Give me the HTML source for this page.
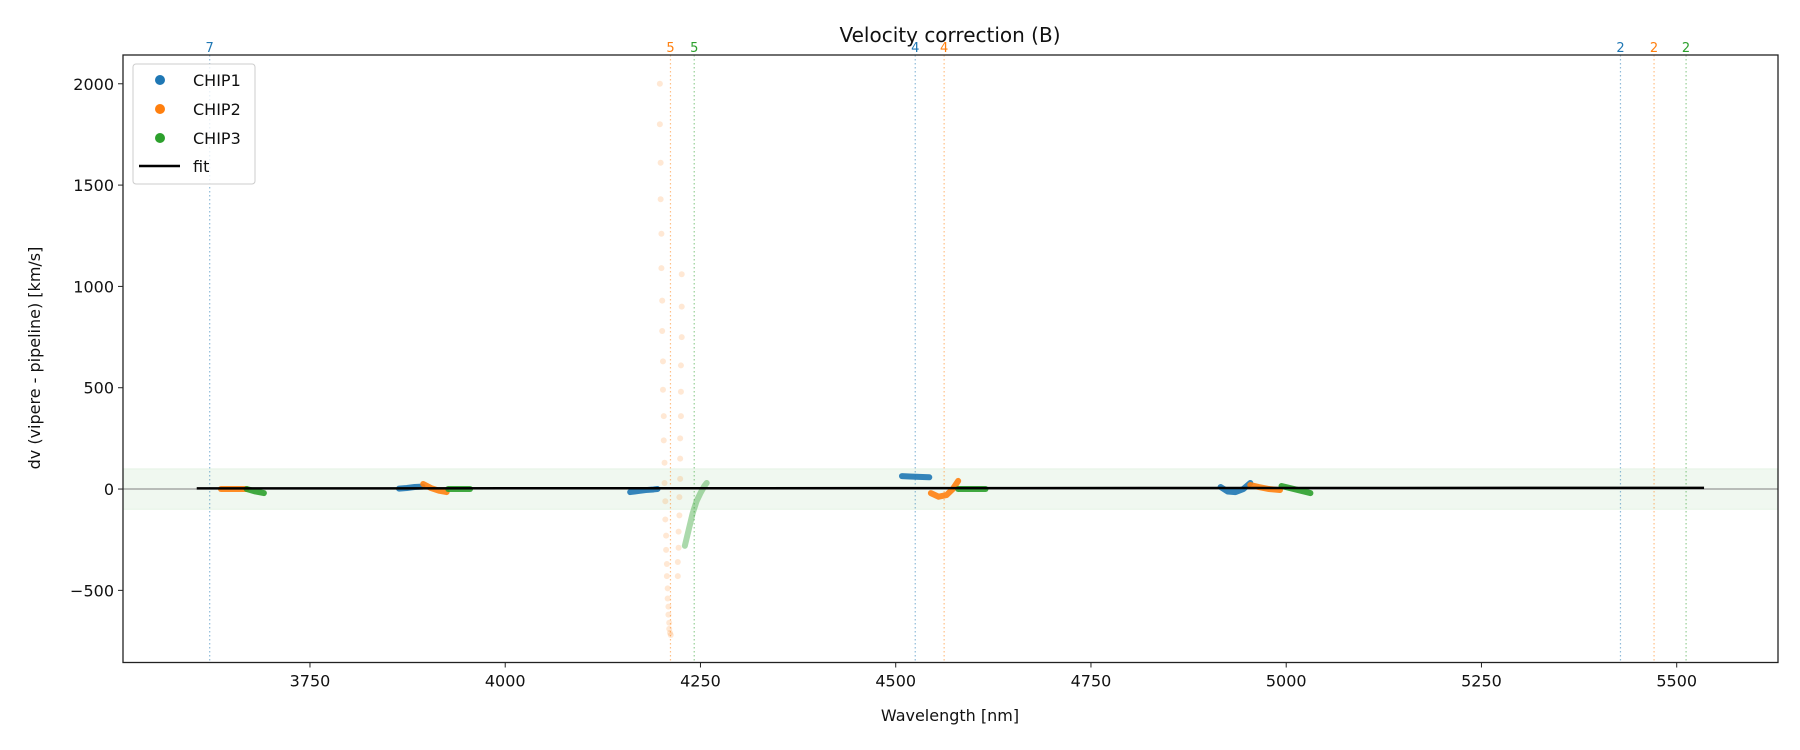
<!DOCTYPE html>
<html><head><meta charset="utf-8"><style>
html,body{margin:0;padding:0;background:#fff;}
svg{display:block;font-family:"DejaVu Sans","Liberation Sans",sans-serif;}
</style></head><body>
<svg id="chart" width="1800" height="750" viewBox="0 0 1800 750" xmlns="http://www.w3.org/2000/svg"></svg>
<script>
// ---- data ----
const xTicks = [3750, 4000, 4250, 4500, 4750, 5000, 5250, 5500];
const yTicks = [-500, 0, 500, 1000, 1500, 2000];
const chip1Segs = [
  {x:[4916,4925,4935,4945,4954], y:[10,-12,-15,0,30]},
  {x:[3864,3874,3884,3894], y:[2,5,10,12]},
  {x:[4160,4170,4180,4190,4195], y:[-15,-10,-5,-2,0]},
  {x:[4508,4518,4530,4543], y:[64,62,60,58]}
];
const chip2Segs = [
  {x:[3636,3650,3669], y:[0,0,0]},
  {x:[3895,3905,3915,3925], y:[25,5,-8,-15]},
  {x:[4545,4555,4565,4573,4580], y:[-20,-38,-30,0,40]},
  {x:[4954,4965,4978,4992], y:[20,10,0,-5]}
];
const chip3Segs = [
  {x:[3669,3680,3691], y:[0,-12,-20]},
  {x:[3927,3940,3955], y:[0,0,0]},
  {x:[4580,4598,4615], y:[0,0,0]},
  {x:[4994,5010,5031], y:[15,0,-20]}
];
const chip3Faint = {x:[4230,4235,4240,4245,4250,4255,4258], y:[-280,-200,-120,-60,-20,15,30]};
const chip2ScatterX = [4198,4198,4199,4199,4200,4200,4201,4201,4202,4202,4203,4203,4204,4204,4205,4205,4206,4206,4207,4207,4208,4208,4209,4209,4210,4210,4211,4212,
  4226,4226,4226,4225,4225,4225,4224,4224,4224,4223,4223,4222,4222,4221,4221];
const chip2ScatterY = [2000,1800,1610,1430,1260,1090,930,780,630,490,360,240,130,30,-60,-150,-230,-300,-370,-430,-490,-540,-580,-620,-660,-690,-710,-720,
  1060,900,750,610,480,360,250,150,50,-40,-130,-210,-290,-360,-430];
const fitX = [3605, 5535];
const fitY = [3, 6];
const markerX = [3621.6, 4211.6, 4242, 4525, 4562, 5428, 5471, 5512];
const markerLabels = ["7","5","5","4","4","2","2","2"];
const markerChip = [0,1,2,0,1,0,1,2];

// ---- layout ----
const L=123, R=1778, T=55, B=662.5;
const xmin=3510.6, xmax=5629.7, ymin=-856, ymax=2142;
const colors=['#1f77b4','#ff7f0e','#2ca02c'];
const sx=v=>L+(v-xmin)/(xmax-xmin)*(R-L);
const sy=v=>B-(v-ymin)/(ymax-ymin)*(B-T);
const svg=document.getElementById('chart');
const NS='http://www.w3.org/2000/svg';
function mk(tag,attrs,parent){const e=document.createElementNS(NS,tag);for(const k in attrs)e.setAttribute(k,attrs[k]);(parent||svg).appendChild(e);return e;}

const defs=mk('defs',{});
const cp=mk('clipPath',{id:'plotclip'},defs);
mk('rect',{x:L,y:T,width:R-L,height:B-T},cp);
const plot=mk('g',{'clip-path':'url(#plotclip)'});



const band=mk('rect',{x:L,y:sy(100),width:R-L,height:sy(-100)-sy(100),fill:'#2ca02c','fill-opacity':0.07,stroke:'#2ca02c','stroke-opacity':0.08},plot);


const zl=mk('line',{x1:L,x2:R,y1:sy(0),y2:sy(0),stroke:'#808080','stroke-width':1},plot);



markerX.forEach((v,i)=>{
  const ln=mk('line',{x1:sx(v),x2:sx(v),y1:T,y2:B,stroke:colors[markerChip[i]],'stroke-opacity':0.5,'stroke-width':1.2,'stroke-dasharray':'1.5,2.5'},plot);
  
  
  const t=mk('text',{x:sx(v),y:T-3,'text-anchor':'middle','font-size':13,fill:colors[markerChip[i]]});
  t.textContent=markerLabels[i];
  
  
});

chip2ScatterX.forEach((v,i)=>{
  const c=mk('circle',{cx:sx(v),cy:sy(chip2ScatterY[i]),r:3,fill:colors[1],'fill-opacity':0.18},plot);
  
  
});
function seg(s,col,op,name){
  const pts=s.x.map((v,i)=>sx(v)+','+sy(s.y[i])).join(' ');
  const p=mk('polyline',{points:pts,fill:'none',stroke:col,'stroke-width':6,'stroke-linecap':'round','stroke-linejoin':'round','stroke-opacity':op},plot);
  
  
}
seg(chip3Faint,colors[2],0.4,'chip3-faint-segment');
chip1Segs.forEach(s=>seg(s,colors[0],0.9,'chip1-segment'));
chip2Segs.forEach(s=>seg(s,colors[1],0.9,'chip2-segment'));
chip3Segs.forEach(s=>seg(s,colors[2],0.9,'chip3-segment'));
const fit=mk('line',{x1:sx(fitX[0]),x2:sx(fitX[1]),y1:sy(fitY[0]),y2:sy(fitY[1]),stroke:'#000','stroke-width':2.5},plot);



const fr=mk('rect',{x:L,y:T,width:R-L,height:B-T,fill:'none',stroke:'#222','stroke-width':1.3});


xTicks.forEach(v=>{
  mk('line',{x1:sx(v),x2:sx(v),y1:B,y2:B+5,stroke:'#222'});
  const t=mk('text',{x:sx(v),y:B+24,'text-anchor':'middle','font-size':16,fill:'#111'});
  t.textContent=v;
  
  
});
yTicks.forEach(v=>{
  mk('line',{x1:L-5,x2:L,y1:sy(v),y2:sy(v),stroke:'#222'});
  const t=mk('text',{x:L-9,y:sy(v)+6,'text-anchor':'end','font-size':16,fill:'#111'});
  t.textContent=v<0?'\u2212'+(-v):v;
  
  
});
</script>
<svg style="position:absolute;left:0;top:0" width="1800" height="750" xmlns="http://www.w3.org/2000/svg">
  <text x="950" y="42" text-anchor="middle" font-size="20" fill="#111" font-family="DejaVu Sans, Liberation Sans, sans-serif">Velocity correction (B)</text>
  <text x="950" y="721" text-anchor="middle" font-size="16" fill="#111" font-family="DejaVu Sans, Liberation Sans, sans-serif">Wavelength [nm]</text>
  <text transform="translate(40,358) rotate(-90)" text-anchor="middle" font-size="16" fill="#111" font-family="DejaVu Sans, Liberation Sans, sans-serif">dv (vipere - pipeline) [km/s]</text>
  <g font-family="DejaVu Sans, Liberation Sans, sans-serif" font-size="16" fill="#111">
    <rect x="133" y="64" width="122" height="120" rx="3" fill="#fff" fill-opacity="0.8" stroke="#ccc"/>
    <g><circle cx="160" cy="80" r="5" fill="#1f77b4"/><text x="193" y="86">CHIP1</text></g>
    <g><circle cx="160" cy="109" r="5" fill="#ff7f0e"/><text x="193" y="115">CHIP2</text></g>
    <g><circle cx="160" cy="138" r="5" fill="#2ca02c"/><text x="193" y="144">CHIP3</text></g>
    <g><line x1="139" x2="180" y1="166" y2="166" stroke="#000" stroke-width="2.5"/><text x="193" y="172">fit</text></g>
  </g>
</svg>
</body></html>
